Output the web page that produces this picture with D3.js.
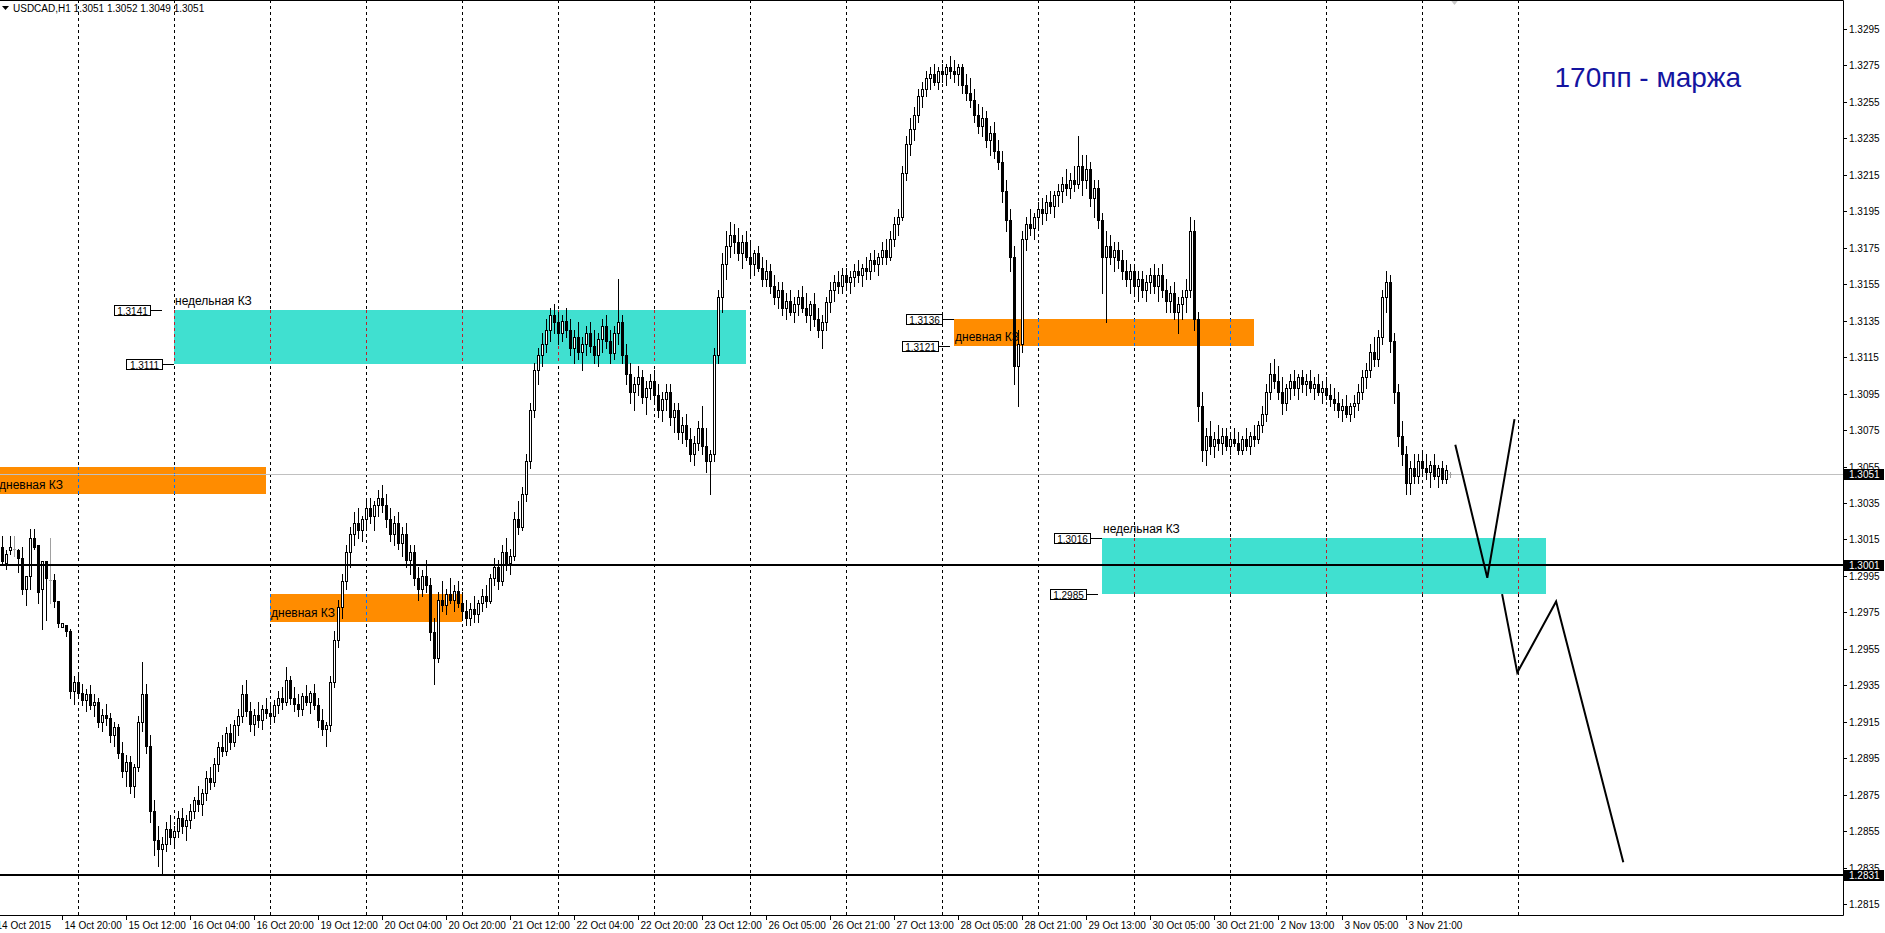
<!DOCTYPE html>
<html>
<head>
<meta charset="utf-8">
<script src="https://cdn.jsdelivr.net/npm/d3@7"></script>
<style>
  body { margin: 0; background: #fff; overflow: hidden; }
  svg text { font-family: "Liberation Sans", Arial, sans-serif; }
</style>
</head>
<body>
<svg id="chart" width="1885" height="933"></svg>
<script>
// USDCAD H1, bar 0 = 14 Oct 2015 04:00
const symbolTitle = "USDCAD,H1";
const titleQuote = "1.3051 1.3052 1.3049 1.3051";

const firstBar = 1;
const opens = [
  1.3011,1.3002,1.3009,1.3010,1.3009,1.3005,1.2988,1.2995,1.3016,1.3012,
  1.2988,1.3003,1.2993,1.2993,1.2981,1.2967,1.2968,1.2965,1.2932,1.2937,
  1.2931,1.2927,1.2930,1.2924,1.2926,1.2915,1.2919,1.2917,1.2908,1.2912,
  1.2898,1.2888,1.2893,1.2880,1.2890,1.2915,1.2930,1.2902,1.2866,1.2850,
  1.2845,1.2848,1.2856,1.2852,1.2855,1.2862,1.2858,1.2861,1.2866,1.2872,
  1.2870,1.2876,1.2884,1.2882,1.2892,1.2901,1.2899,1.2909,1.2904,1.2913,
  1.2918,1.2930,1.2921,1.2914,1.2919,1.2916,1.2922,1.2920,1.2918,1.2924,
  1.2928,1.2926,1.2938,1.2928,1.2925,1.2922,1.2929,1.2926,1.2931,1.2924,
  1.2916,1.2911,1.2913,1.2937,1.2960,1.2978,1.2992,1.3008,1.3018,1.3024,
  1.3020,1.3026,1.3032,1.3028,1.3034,1.3038,1.3034,1.3026,1.3018,1.3024,
  1.3013,1.3018,1.3004,1.3008,1.2994,1.2988,1.2995,1.2990,1.2964,1.2950,
  1.2982,1.2979,1.2985,1.2982,1.2987,1.2980,1.2976,1.2972,1.2977,1.2974,
  1.2980,1.2984,1.2981,1.2994,1.3000,1.2992,1.3008,1.3002,1.3006,1.3026,
  1.3022,1.3040,1.3058,1.3086,1.3108,1.3116,1.3122,1.3130,1.3138,1.3134,
  1.3128,1.3135,1.3130,1.3120,1.3126,1.3118,1.3122,1.3128,1.3121,1.3116,
  1.3125,1.3132,1.3124,1.3117,1.3128,1.3134,1.3116,1.3106,1.3096,1.3100,
  1.3104,1.3093,1.3098,1.3102,1.3094,1.3086,1.3092,1.3096,1.3082,1.3086,
  1.3074,1.3078,1.3070,1.3062,1.3068,1.3076,1.3066,1.3058,1.3062,1.3116,
  1.3148,1.3166,1.3176,1.3182,1.3178,1.3172,1.3178,1.3170,1.3166,1.3172,
  1.3164,1.3158,1.3162,1.3154,1.3148,1.3152,1.3142,1.3146,1.3140,1.3144,
  1.3148,1.3142,1.3138,1.3144,1.3136,1.3130,1.3134,1.3145,1.3152,1.3156,
  1.3154,1.3160,1.3156,1.3159,1.3162,1.3160,1.3164,1.3162,1.3168,1.3166,
  1.3170,1.3174,1.3170,1.3180,1.3188,1.3192,1.3216,1.3232,1.3240,1.3248,
  1.3258,1.3262,1.3268,1.3270,1.3266,1.3272,1.3270,1.3274,1.3272,1.3270,
  1.3274,1.3264,1.3260,1.3256,1.3248,1.3242,1.3246,1.3234,1.3238,1.3228,
  1.3222,1.3206,1.3190,1.3170,1.3110,1.3122,1.3180,1.3188,1.3186,1.3192,
  1.3196,1.3194,1.3200,1.3198,1.3204,1.3206,1.3210,1.3208,1.3212,1.3210,
  1.3220,1.3212,1.3218,1.3202,1.3208,1.3190,1.3170,1.3176,1.3170,1.3174,
  1.3168,1.3162,1.3158,1.3162,1.3154,1.3158,1.3152,1.3156,1.3160,1.3154,
  1.3160,1.3152,1.3146,1.3150,1.3140,1.3144,1.3148,1.3152,1.3184,1.3136,
  1.3088,1.3064,1.3072,1.3066,1.3070,1.3068,1.3072,1.3066,1.3070,1.3068,
  1.3064,1.3070,1.3066,1.3072,1.3070,1.3078,1.3084,1.3096,1.3106,1.3102,
  1.3096,1.3090,1.3098,1.3102,1.3098,1.3104,1.3100,1.3102,1.3098,1.3100,
  1.3096,1.3098,1.3094,1.3092,1.3090,1.3086,1.3088,1.3084,1.3088,1.3090,
  1.3096,1.3104,1.3108,1.3118,1.3114,1.3126,1.3148,1.3156,1.3124,1.3096,
  1.3072,1.3062,1.3046,1.3054,1.3050,1.3058,1.3054,1.3052,1.3056,1.3050,
  1.3054,1.3048,1.3051];
const highs = [
  1.3017,1.3009,1.3017,1.3017,1.3010,1.3011,1.2995,1.3021,1.3021,1.3012,
  1.3003,1.3003,1.3016,1.2996,1.2981,1.2969,1.2968,1.2966,1.2940,1.2941,
  1.2936,1.2933,1.2935,1.2930,1.2928,1.2922,1.2925,1.2920,1.2915,1.2914,
  1.2904,1.2897,1.2896,1.2892,1.2918,1.2948,1.2936,1.2908,1.2872,1.2858,
  1.2852,1.2860,1.2864,1.2858,1.2866,1.2868,1.2864,1.2870,1.2874,1.2880,
  1.2878,1.2888,1.2890,1.2895,1.2904,1.2908,1.2912,1.2914,1.2916,1.2922,
  1.2935,1.2938,1.2926,1.2922,1.2926,1.2924,1.2928,1.2926,1.2927,1.2932,
  1.2934,1.2945,1.2940,1.2934,1.2930,1.2931,1.2935,1.2932,1.2936,1.2928,
  1.2922,1.2915,1.2940,1.2965,1.2982,1.2996,1.3012,1.3022,1.3030,1.3032,
  1.3028,1.3036,1.3038,1.3036,1.3042,1.3045,1.3040,1.3032,1.3028,1.3030,
  1.3022,1.3024,1.3012,1.3012,1.3000,1.2998,1.3004,1.2994,1.2972,1.2986,
  1.2992,1.2988,1.2994,1.2990,1.2992,1.2986,1.2982,1.2980,1.2984,1.2982,
  1.2988,1.2990,1.2996,1.3005,1.3004,1.3012,1.3016,1.3010,1.3030,1.3036,
  1.3044,1.3062,1.3090,1.3112,1.3120,1.3128,1.3136,1.3142,1.3144,1.3140,
  1.3138,1.3142,1.3136,1.3130,1.3134,1.3126,1.3132,1.3134,1.3130,1.3128,
  1.3136,1.3138,1.3130,1.3132,1.3158,1.3138,1.3122,1.3112,1.3104,1.3110,
  1.3108,1.3102,1.3106,1.3108,1.3100,1.3096,1.3100,1.3100,1.3090,1.3090,
  1.3082,1.3084,1.3076,1.3072,1.3080,1.3088,1.3076,1.3064,1.3120,1.3152,
  1.3172,1.3184,1.3189,1.3188,1.3186,1.3182,1.3184,1.3178,1.3174,1.3176,
  1.3170,1.3168,1.3166,1.3160,1.3156,1.3156,1.3150,1.3152,1.3148,1.3152,
  1.3154,1.3150,1.3146,1.3150,1.3142,1.3138,1.3148,1.3156,1.3160,1.3162,
  1.3164,1.3164,1.3162,1.3166,1.3168,1.3166,1.3170,1.3172,1.3174,1.3172,
  1.3178,1.3180,1.3184,1.3192,1.3196,1.3220,1.3236,1.3246,1.3252,1.3262,
  1.3266,1.3272,1.3274,1.3276,1.3274,1.3276,1.3276,1.3280,1.3278,1.3276,
  1.3276,1.3270,1.3268,1.3262,1.3254,1.3252,1.3250,1.3242,1.3244,1.3234,
  1.3228,1.3212,1.3196,1.3176,1.3130,1.3184,1.3192,1.3196,1.3194,1.3200,
  1.3202,1.3204,1.3206,1.3206,1.3210,1.3214,1.3218,1.3216,1.3220,1.3236,
  1.3226,1.3226,1.3222,1.3212,1.3212,1.3194,1.3184,1.3182,1.3178,1.3178,
  1.3174,1.3168,1.3166,1.3166,1.3162,1.3162,1.3160,1.3164,1.3166,1.3164,
  1.3166,1.3158,1.3154,1.3156,1.3148,1.3152,1.3158,1.3192,1.3190,1.3140,
  1.3096,1.3076,1.3080,1.3074,1.3078,1.3076,1.3076,1.3074,1.3076,1.3074,
  1.3072,1.3076,1.3074,1.3078,1.3080,1.3088,1.3100,1.3112,1.3114,1.3110,
  1.3104,1.3100,1.3106,1.3108,1.3106,1.3108,1.3106,1.3108,1.3104,1.3106,
  1.3102,1.3104,1.3100,1.3098,1.3096,1.3092,1.3094,1.3090,1.3094,1.3100,
  1.3108,1.3112,1.3122,1.3126,1.3130,1.3152,1.3162,1.3160,1.3128,1.3100,
  1.3080,1.3066,1.3058,1.3062,1.3062,1.3064,1.3062,1.3058,1.3062,1.3056,
  1.3058,1.3056,1.3052];
const lows = [
  1.3002,1.2999,1.3007,1.3006,1.2997,1.2985,1.2979,1.2988,1.3010,1.2980,
  1.2966,1.2971,1.2980,1.2978,1.2967,1.2967,1.2962,1.2928,1.2925,1.2928,
  1.2924,1.2921,1.2922,1.2918,1.2912,1.2910,1.2913,1.2904,1.2902,1.2895,
  1.2885,1.2880,1.2876,1.2874,1.2888,1.2910,1.2898,1.2860,1.2842,1.2836,
  1.2832,1.2844,1.2848,1.2846,1.2852,1.2854,1.2850,1.2857,1.2862,1.2866,
  1.2864,1.2872,1.2878,1.2880,1.2888,1.2896,1.2897,1.2900,1.2902,1.2908,
  1.2915,1.2918,1.2910,1.2908,1.2912,1.2911,1.2917,1.2914,1.2915,1.2920,
  1.2922,1.2924,1.2925,1.2921,1.2918,1.2919,1.2924,1.2920,1.2922,1.2912,
  1.2908,1.2902,1.2910,1.2934,1.2956,1.2972,1.2988,1.3000,1.3012,1.3016,
  1.3014,1.3022,1.3024,1.3020,1.3028,1.3030,1.3022,1.3014,1.3012,1.3010,
  1.3006,1.3000,1.2996,1.2990,1.2982,1.2984,1.2986,1.2960,1.2936,1.2948,
  1.2976,1.2974,1.2980,1.2976,1.2978,1.2972,1.2968,1.2968,1.2970,1.2970,
  1.2976,1.2978,1.2980,1.2990,1.2988,1.2990,1.2998,1.2996,1.3004,1.3018,
  1.3020,1.3036,1.3054,1.3082,1.3100,1.3110,1.3118,1.3124,1.3128,1.3122,
  1.3124,1.3126,1.3116,1.3112,1.3114,1.3108,1.3116,1.3118,1.3112,1.3110,
  1.3118,1.3120,1.3112,1.3114,1.3122,1.3112,1.3100,1.3090,1.3086,1.3094,
  1.3090,1.3084,1.3092,1.3090,1.3082,1.3080,1.3086,1.3078,1.3074,1.3070,
  1.3068,1.3066,1.3058,1.3056,1.3064,1.3062,1.3052,1.3040,1.3058,1.3112,
  1.3140,1.3158,1.3170,1.3172,1.3168,1.3164,1.3168,1.3160,1.3160,1.3162,
  1.3154,1.3154,1.3150,1.3144,1.3142,1.3138,1.3136,1.3138,1.3134,1.3138,
  1.3140,1.3134,1.3130,1.3132,1.3126,1.3120,1.3130,1.3140,1.3146,1.3150,
  1.3150,1.3152,1.3150,1.3154,1.3156,1.3154,1.3158,1.3158,1.3162,1.3160,
  1.3166,1.3166,1.3168,1.3176,1.3182,1.3190,1.3212,1.3226,1.3234,1.3244,
  1.3252,1.3258,1.3262,1.3264,1.3262,1.3266,1.3264,1.3268,1.3266,1.3264,
  1.3260,1.3256,1.3252,1.3244,1.3238,1.3236,1.3230,1.3226,1.3224,1.3218,
  1.3200,1.3184,1.3162,1.3100,1.3088,1.3118,1.3174,1.3182,1.3180,1.3186,
  1.3188,1.3190,1.3194,1.3192,1.3198,1.3200,1.3204,1.3202,1.3206,1.3208,
  1.3204,1.3208,1.3198,1.3192,1.3186,1.3150,1.3134,1.3166,1.3162,1.3164,
  1.3158,1.3154,1.3150,1.3150,1.3146,1.3148,1.3146,1.3150,1.3150,1.3146,
  1.3148,1.3140,1.3140,1.3136,1.3128,1.3136,1.3140,1.3148,1.3130,1.3080,
  1.3058,1.3056,1.3062,1.3060,1.3064,1.3062,1.3064,1.3062,1.3066,1.3062,
  1.3062,1.3064,1.3062,1.3066,1.3068,1.3074,1.3080,1.3092,1.3098,1.3092,
  1.3084,1.3086,1.3092,1.3094,1.3092,1.3096,1.3094,1.3096,1.3092,1.3094,
  1.3090,1.3092,1.3088,1.3086,1.3082,1.3080,1.3082,1.3080,1.3082,1.3086,
  1.3092,1.3098,1.3104,1.3110,1.3110,1.3122,1.3140,1.3118,1.3090,1.3066,
  1.3056,1.3040,1.3040,1.3046,1.3046,1.3050,1.3048,1.3044,1.3048,1.3044,
  1.3046,1.3046,1.3049];
const closes = [
  1.3003,1.3007,1.3011,1.3010,1.3005,1.2988,1.2995,1.3016,1.3011,1.2986,
  1.3003,1.2994,1.2993,1.2981,1.2969,1.2969,1.2965,1.2932,1.2937,1.2931,
  1.2927,1.2930,1.2924,1.2926,1.2915,1.2919,1.2917,1.2908,1.2912,1.2898,
  1.2888,1.2893,1.2880,1.2890,1.2915,1.2930,1.2902,1.2866,1.2850,1.2845,
  1.2848,1.2856,1.2852,1.2855,1.2862,1.2858,1.2861,1.2866,1.2872,1.2870,
  1.2876,1.2884,1.2882,1.2892,1.2901,1.2899,1.2909,1.2904,1.2913,1.2918,
  1.2930,1.2921,1.2914,1.2919,1.2916,1.2922,1.2920,1.2918,1.2924,1.2928,
  1.2926,1.2938,1.2928,1.2925,1.2922,1.2929,1.2926,1.2931,1.2924,1.2916,
  1.2911,1.2913,1.2937,1.2960,1.2978,1.2992,1.3008,1.3018,1.3024,1.3020,
  1.3026,1.3032,1.3028,1.3034,1.3038,1.3034,1.3026,1.3018,1.3024,1.3013,
  1.3018,1.3004,1.3008,1.2994,1.2988,1.2995,1.2990,1.2964,1.2950,1.2982,
  1.2979,1.2985,1.2982,1.2987,1.2980,1.2976,1.2972,1.2977,1.2974,1.2980,
  1.2984,1.2981,1.2994,1.3000,1.2992,1.3008,1.3002,1.3006,1.3026,1.3022,
  1.3040,1.3058,1.3086,1.3108,1.3116,1.3122,1.3130,1.3138,1.3134,1.3128,
  1.3135,1.3130,1.3120,1.3126,1.3118,1.3122,1.3128,1.3121,1.3116,1.3125,
  1.3132,1.3124,1.3117,1.3128,1.3134,1.3116,1.3106,1.3096,1.3100,1.3104,
  1.3093,1.3098,1.3102,1.3094,1.3086,1.3092,1.3096,1.3082,1.3086,1.3074,
  1.3078,1.3070,1.3062,1.3068,1.3076,1.3066,1.3058,1.3062,1.3116,1.3148,
  1.3166,1.3176,1.3182,1.3178,1.3172,1.3178,1.3170,1.3166,1.3172,1.3164,
  1.3158,1.3162,1.3154,1.3148,1.3152,1.3142,1.3146,1.3140,1.3144,1.3148,
  1.3142,1.3138,1.3144,1.3136,1.3130,1.3134,1.3145,1.3152,1.3156,1.3154,
  1.3160,1.3156,1.3159,1.3162,1.3160,1.3164,1.3162,1.3168,1.3166,1.3170,
  1.3174,1.3170,1.3180,1.3188,1.3192,1.3216,1.3232,1.3240,1.3248,1.3258,
  1.3262,1.3268,1.3270,1.3266,1.3272,1.3270,1.3274,1.3272,1.3270,1.3274,
  1.3264,1.3260,1.3256,1.3248,1.3242,1.3246,1.3234,1.3238,1.3228,1.3222,
  1.3206,1.3190,1.3170,1.3110,1.3122,1.3180,1.3188,1.3186,1.3192,1.3196,
  1.3194,1.3200,1.3198,1.3204,1.3206,1.3210,1.3208,1.3212,1.3210,1.3220,
  1.3212,1.3218,1.3202,1.3208,1.3190,1.3170,1.3176,1.3170,1.3174,1.3168,
  1.3162,1.3158,1.3162,1.3154,1.3158,1.3152,1.3156,1.3160,1.3154,1.3160,
  1.3152,1.3146,1.3150,1.3140,1.3144,1.3148,1.3152,1.3184,1.3136,1.3088,
  1.3064,1.3072,1.3066,1.3070,1.3068,1.3072,1.3066,1.3070,1.3068,1.3064,
  1.3070,1.3066,1.3072,1.3070,1.3078,1.3084,1.3096,1.3106,1.3102,1.3096,
  1.3090,1.3098,1.3102,1.3098,1.3104,1.3100,1.3102,1.3098,1.3100,1.3096,
  1.3098,1.3094,1.3092,1.3090,1.3086,1.3088,1.3084,1.3088,1.3090,1.3096,
  1.3104,1.3108,1.3118,1.3114,1.3126,1.3148,1.3156,1.3124,1.3096,1.3072,
  1.3062,1.3046,1.3054,1.3050,1.3058,1.3054,1.3052,1.3056,1.3050,1.3054,
  1.3048,1.3053,1.3051];

// time axis labels, one every 16 bars
const timeLabels = ["14 Oct 2015", "14 Oct 20:00", "15 Oct 12:00", "16 Oct 04:00", "16 Oct 20:00",
  "19 Oct 12:00", "20 Oct 04:00", "20 Oct 20:00", "21 Oct 12:00", "22 Oct 04:00", "22 Oct 20:00",
  "23 Oct 12:00", "26 Oct 05:00", "26 Oct 21:00", "27 Oct 13:00", "28 Oct 05:00", "28 Oct 21:00",
  "29 Oct 13:00", "30 Oct 05:00", "30 Oct 21:00", "2 Nov 13:00", "3 Nov 05:00", "3 Nov 21:00"];
const timeLabelBars = [-1, 16, 32, 48, 64, 80, 96, 112, 128, 144, 160, 176, 192, 208, 224, 240,
  256, 272, 288, 304, 320, 336, 352];

// day separators
const gridBars = [20, 44, 68, 92, 116, 140, 164, 188, 212, 236, 260, 284, 308, 332, 356, 380];

// price axis
const priceTicks = [1.2815, 1.2835, 1.2855, 1.2875, 1.2895, 1.2915, 1.2935, 1.2955, 1.2975, 1.2995,
  1.3015, 1.3035, 1.3055, 1.3075, 1.3095, 1.3115, 1.3135, 1.3155, 1.3175, 1.3195, 1.3215, 1.3235,
  1.3255, 1.3275, 1.3295];
const bidPrice = 1.3051;
const levelPrices = [1.3001, 1.2831];

// zones
const zoneNames = ["недельная КЗ", "дневная КЗ", "дневная КЗ", "дневная КЗ", "недельная КЗ"];
const zoneKinds = ["weekly", "daily", "daily", "daily", "weekly"];
const zoneFrom  = [44, -40, 68, 239, 276];
const zoneTo    = [187, 67, 116, 314, 387];
const zoneTextBar = [44, 0, 68, 239, 276];
const zoneHigh  = [1.3141, 1.3055, 1.2985, 1.3136, 1.3016];
const zoneLow   = [1.3111, 1.3040, 1.2970, 1.3121, 1.2985];

// left price tags
const tagPrices = [1.3141, 1.3111, 1.3136, 1.3121, 1.3016, 1.2985];
const tagBars   = [41, 44, 239, 238, 276, 275];

// forecast zigzags
const zigABars   = [364.2, 372.2, 379.0];
const zigAPrices = [1.3067, 1.2994, 1.3081];
const zigBBars   = [375.9, 379.7, 389.4, 406.2];
const zigBPrices = [1.2985, 1.2942, 1.2981, 1.2838];

const noteText = "170пп - маржа";
const noteBar = 389;
const notePrice = 1.3263;

const plotRight = 1843, plotBottom = 915;
const cyan = "#40e0d0", orange = "#ff8c00";

const svg = d3.select("#chart");
const x = d3.scaleLinear().domain([0, 1]).range([-1.5, 2.5]);
const y = d3.scaleLinear().domain([1.3001, 1.2831]).range([565, 875]);
const row = p => Math.round(y(p));

const plot = svg.append("g");
plot.append("clipPath").attr("id", "plotClip")
  .append("rect").attr("width", plotRight).attr("height", plotBottom);
const g = plot.append("g").attr("clip-path", "url(#plotClip)");

// zones
zoneNames.forEach((name, i) => {
  const x0 = x(zoneFrom[i]) - 0.5, x1 = x(zoneTo[i]) - 0.5;
  const y0 = row(zoneHigh[i]), y1 = row(zoneLow[i]);
  g.append("rect").attr("x", x0).attr("y", y0).attr("width", x1 - x0).attr("height", y1 - y0)
    .attr("fill", zoneKinds[i] === "weekly" ? cyan : orange);
});

// day separators, shown inverted where they cross a zone
gridBars.forEach(b => {
  g.append("line").attr("x1", x(b)).attr("x2", x(b)).attr("y1", 0).attr("y2", plotBottom)
    .attr("stroke", "#000").attr("stroke-dasharray", "3,3");
});
zoneNames.forEach((name, i) => {
  const x0 = x(zoneFrom[i]) - 0.5, x1 = x(zoneTo[i]) - 0.5;
  const y0 = row(zoneHigh[i]), y1 = row(zoneLow[i]);
  gridBars.filter(b => x(b) > x0 && x(b) < x1).forEach(b => {
    g.append("line").attr("x1", x(b)).attr("x2", x(b)).attr("y1", y0).attr("y2", y1)
      .attr("stroke", zoneKinds[i] === "weekly" ? cyan : orange);
    g.append("line").attr("x1", x(b)).attr("x2", x(b)).attr("y1", y0).attr("y2", y1)
      .attr("stroke", zoneKinds[i] === "weekly" ? "#bf1f2f" : "#0073ff")
      .attr("stroke-dasharray", "3,3");
  });
});

// zone captions
zoneNames.forEach((name, i) => {
  const tx = x(zoneTextBar[i]) + 0.5;
  const ty = zoneKinds[i] === "weekly" ? row(zoneHigh[i]) - 5 : row(zoneLow[i]) - 5;
  g.append("text").attr("x", tx).attr("y", ty).attr("font-size", 12).attr("fill", "#000").text(name);
});

// bid line
g.append("line").attr("x1", 0).attr("x2", plotRight).attr("y1", row(bidPrice) + 0.5).attr("y2", row(bidPrice) + 0.5)
  .attr("stroke", "#c0c0c0");

// candles
const candles = g.append("g");
opens.forEach((o, k) => {
  const i = firstBar + k;
  const cx = x(i), h = highs[k], l = lows[k], c = closes[k];
  const doji = o === c;
  candles.append("line").attr("x1", cx).attr("x2", cx)
    .attr("y1", row(h)).attr("y2", row(l) + 1)
    .attr("stroke", doji ? "#a0a0a0" : "#000");
  if (doji) {
    candles.append("rect").attr("x", cx - 1.5).attr("y", row(o)).attr("width", 3).attr("height", 1).attr("fill", "#a0a0a0");
  } else if (c > o) {
    const top = row(c), bot = row(o);
    candles.append("rect").attr("x", cx - 1).attr("y", top + 0.5).attr("width", 2).attr("height", Math.max(bot - top, 1))
      .attr("fill", "#fff").attr("stroke", "#000");
  } else {
    const top = row(o), bot = row(c);
    candles.append("rect").attr("x", cx - 1.5).attr("y", top).attr("width", 3).attr("height", Math.max(bot - top + 1, 1))
      .attr("fill", "#000");
  }
});

// horizontal levels
levelPrices.forEach(p => {
  g.append("rect").attr("x", 0).attr("y", row(p) - 1).attr("width", plotRight).attr("height", 2).attr("fill", "#000");
});

// zigzags
const zigLine = d3.line().x(d => x(d[0])).y(d => y(d[1]));
[[zigABars, zigAPrices], [zigBBars, zigBPrices]].forEach(([bs, ps]) => {
  g.append("path").attr("d", zigLine(bs.map((b, j) => [b, ps[j]])))
    .attr("fill", "none").attr("stroke", "#000").attr("stroke-width", 2);
});

// price tags
tagPrices.forEach((p, i) => {
  const ax = x(tagBars[i]) - 0.5, ry = row(p) + 0.5;
  g.append("line").attr("x1", ax - 11).attr("x2", ax).attr("y1", ry).attr("y2", ry).attr("stroke", "#000");
  g.append("rect").attr("x", ax - 47.5).attr("y", ry - 5).attr("width", 36).attr("height", 10)
    .attr("fill", "#fff").attr("stroke", "#000");
  g.append("text").attr("x", ax - 29.5).attr("y", ry + 4).attr("text-anchor", "middle")
    .attr("font-size", 10).attr("fill", "#000").text(d3.format(".4f")(p));
});

// note
g.append("text").attr("x", x(noteBar)).attr("y", y(notePrice)).attr("font-size", 28)
  .attr("fill", "#1414a0").text(noteText);

// shift marker
svg.append("path").attr("d", `M${x(364) - 4},0 L${x(364) + 4},0 L${x(364)},5 Z`).attr("fill", "#c8c8c8");

// frame
svg.append("path").attr("d", `M0,0.5 H${plotRight + 0.5} V${plotBottom + 0.5} H0`)
  .attr("fill", "none").attr("stroke", "#000");

// price axis
priceTicks.forEach(p => {
  const ry = row(p) + 0.5;
  svg.append("line").attr("x1", plotRight + 1).attr("x2", plotRight + 4).attr("y1", ry).attr("y2", ry).attr("stroke", "#000");
  svg.append("text").attr("x", plotRight + 6).attr("y", ry + 3.5).attr("font-size", 10).attr("fill", "#000")
    .text(d3.format(".4f")(p));
});
[bidPrice, ...levelPrices].forEach(p => {
  const ry = row(p);
  svg.append("rect").attr("x", plotRight + 1).attr("y", ry - 5).attr("width", 40).attr("height", 11).attr("fill", "#000");
  svg.append("text").attr("x", plotRight + 6).attr("y", ry + 4).attr("font-size", 10).attr("fill", "#fff")
    .text(d3.format(".4f")(p));
});

// time axis
timeLabels.forEach((t, i) => {
  const tx = x(timeLabelBars[i]);
  svg.append("line").attr("x1", tx).attr("x2", tx).attr("y1", plotBottom + 1).attr("y2", plotBottom + 5).attr("stroke", "#000");
  svg.append("text").attr("x", tx + 2).attr("y", plotBottom + 14).attr("font-size", 10).attr("fill", "#000").text(t);
});

// title
svg.append("path").attr("d", "M2,6 L9,6 L5.5,10 Z").attr("fill", "#000");
svg.append("text").attr("x", 13).attr("y", 11.5).attr("font-size", 10).attr("fill", "#000")
  .text(symbolTitle + "  " + titleQuote);
</script>
</body>
</html>
